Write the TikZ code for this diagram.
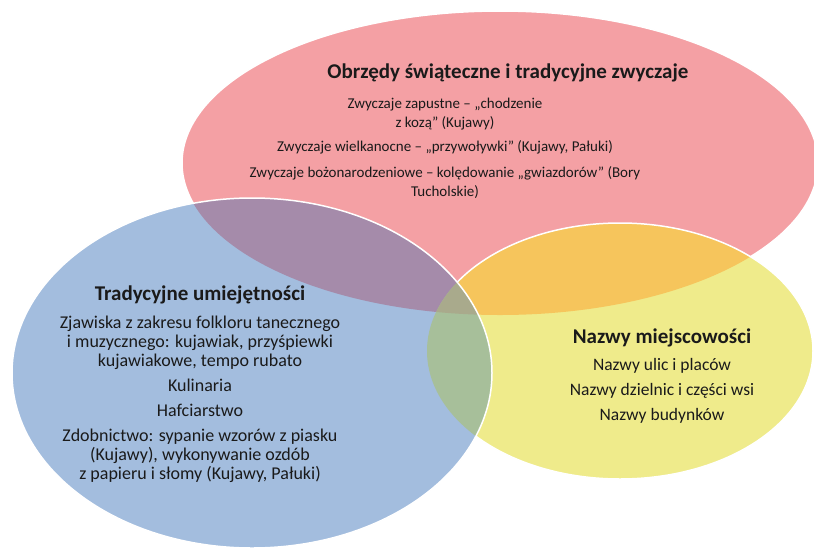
\documentclass[tikz,border=0pt]{standalone}
\usepackage{fontspec}
\setmainfont{Carlito}

\definecolor{redset}{HTML}{F4A0A4}
\definecolor{yellowset}{HTML}{EFEB8B}
\definecolor{blueset}{HTML}{A3BDDE}
\definecolor{redblue}{HTML}{A58BAA}
\definecolor{redyellow}{HTML}{F6C55C}
\definecolor{blueyellow}{HTML}{A7BF9A}
\definecolor{allthree}{HTML}{A9AA8C}
\definecolor{textdark}{HTML}{1A1A1A}

\tikzset{
  settitle/.style={font=\fontsize{21}{25}\selectfont\bfseries, text=textdark, inner sep=0pt, anchor=base},
  setitems/.style={text=textdark, align=center, inner sep=0pt, anchor=north},
  rim/.style={draw=white, line width=1.5pt}
}

% the three sets
\def\redpath{(500,163) ellipse [x radius=318pt, y radius=152pt]}
\def\yellowpath{(620,351) ellipse [x radius=193pt, y radius=128pt]}
\def\bluepath{(252,373) ellipse [x radius=240pt, y radius=175pt]}

\begin{document}
\begin{tikzpicture}[x=1pt, y=-1pt]
  \useasboundingbox (0,0) rectangle (814,547);
  % Red set
  \fill[redset] \redpath;
  \draw[rim] \redpath;
  % Yellow set, orange where it meets red
  \fill[yellowset] \yellowpath;
  \begin{scope}
    \clip \redpath;
    \fill[redyellow] \yellowpath;
  \end{scope}
  \draw[rim] \yellowpath;
  % Blue set with its overlaps
  \fill[blueset] \bluepath;
  \begin{scope}
    \clip \bluepath;
    \fill[redblue] \redpath;
    \fill[blueyellow] \yellowpath;
    \clip \redpath;
    \fill[allthree] \yellowpath;
  \end{scope}
  \draw[rim] \bluepath;

  % Texts
  \node[settitle] (redtitle) at (508,78) {Obrzędy świąteczne i tradycyjne zwyczaje};
  \node[setitems, font=\fontsize{15}{19}\selectfont] (reditems) at (445,97.5) {Zwyczaje zapustne – „chodzenie\\
    z kozą” (Kujawy)\\[5pt]
    Zwyczaje wielkanocne – „przywoływki” (Kujawy, Pałuki)\\[7pt]
    Zwyczaje bożonarodzeniowe – kolędowanie „gwiazdorów” (Bory\\
    Tucholskie)};

  \node[settitle] (bluetitle) at (200,300) {Tradycyjne umiejętności};
  \node[setitems, font=\fontsize{18}{19}\selectfont] (blueitems) at (200,316) {Zjawiska z zakresu folkloru tanecznego\\
    i muzycznego: kujawiak, przyśpiewki\\
    kujawiakowe, tempo rubato\\[6pt]
    Kulinaria\\[6pt]
    Hafciarstwo\\[6pt]
    Zdobnictwo: sypanie wzorów z piasku\\
    (Kujawy), wykonywanie ozdób\\
    z papieru i słomy (Kujawy, Pałuki)};

  \node[settitle] (yellowtitle) at (662,343) {Nazwy miejscowości};
  \node[setitems, font=\fontsize{17.5}{19}\selectfont] (yellowitems) at (662,358.5) {Nazwy ulic i placów\\[6pt]
    Nazwy dzielnic i części wsi\\[6pt]
    Nazwy budynków};
\end{tikzpicture}
\end{document}
